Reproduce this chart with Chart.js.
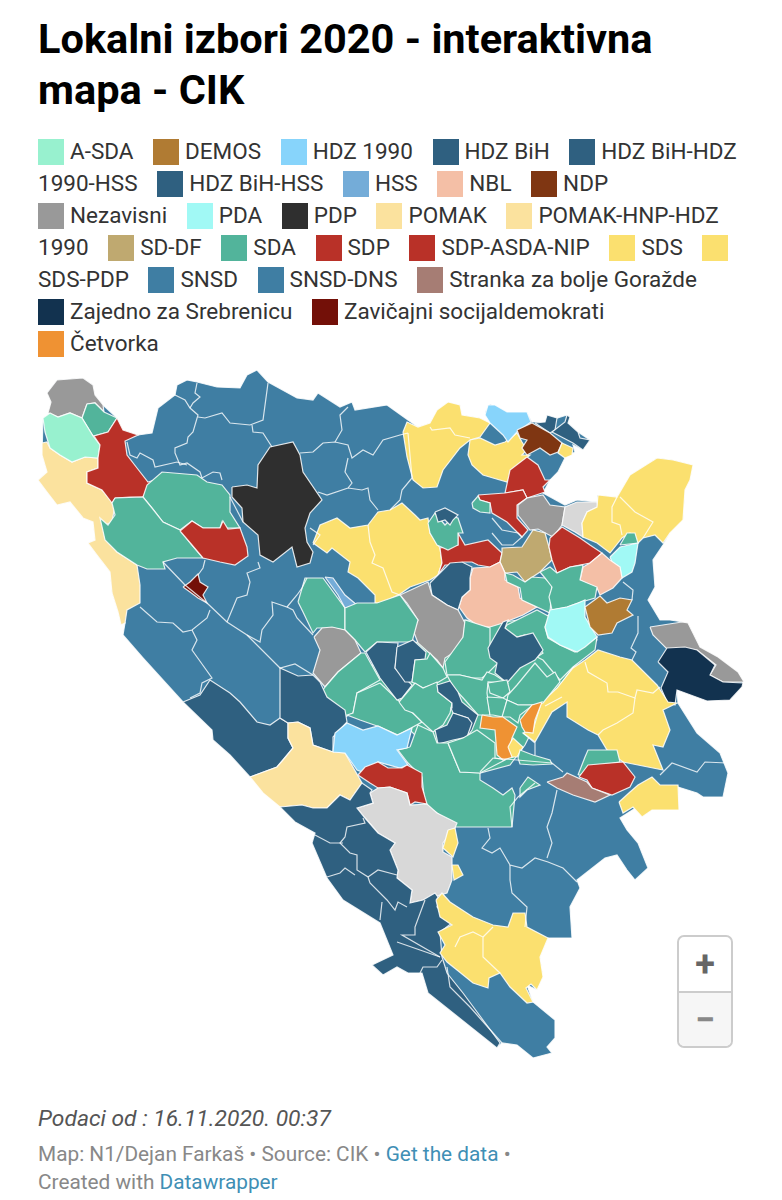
<!DOCTYPE html>
<html>
<head>
<meta charset="utf-8">
<script src="https://cdn.jsdelivr.net/npm/chart.js@4"></script>
<style>
    html, body { margin: 0; padding: 0; background: #fff; }
    body { width: 782px; height: 1200px; position: relative; overflow: hidden; font-family: Roboto, sans-serif; }
    h1 { position: absolute; left: 38px; top: 13px; width: 700px; margin: 0; font-size: 41.5px; line-height: 51px; font-weight: 700; color: #000; }
    #legend { position: absolute; left: 38px; top: 135px; width: 702px; font-size: 22.5px; line-height: 32px; color: #333; }
    #legend i { display: inline-block; width: 26px; height: 26px; margin-right: 6px; vertical-align: -6px; }
    #legend .item { margin-right: 14px; }
    #legend .lead { white-space: nowrap; }
    #map { position: absolute; left: 0; top: 365px; }
    #note { position: absolute; left: 38px; top: 1105px; font-size: 22.8px; font-style: italic; color: #555; }
    #credit { position: absolute; left: 38px; top: 1140px; width: 480px; font-size: 20.8px; line-height: 28px; color: #888; }
    #credit a { color: #3f8fb5; text-decoration: none; }
    #zoom { position: absolute; left: 677px; top: 935px; width: 52px; height: 109px; border: 2px solid #ccc; border-radius: 7px; background: #fff; color: #666; text-align: center; font-weight: 700; font-size: 36px; }
    #zoom div { height: 54px; line-height: 54px; }
    #zoom div + div { height: 53px; border-top: 2px solid #ccc; background: #f6f6f6; color: #888; border-radius: 0 0 6px 6px; }
</style>
</head>
<body>
<h1>Lokalni izbori 2020 - interaktivna mapa - CIK</h1>
<div id="legend"></div>
<canvas id="map" width="782" height="705"></canvas>
<div id="note">Podaci od : 16.11.2020. 00:37</div>
<div id="credit">Map: N1/Dejan Farkaš • Source: CIK • <a>Get the data</a> • Created with <a>Datawrapper</a></div>
<div id="zoom"><div>+</div><div>−</div></div>
<script>
// legend
const parties = ["A-SDA", "DEMOS", "HDZ 1990", "HDZ BiH", "HDZ BiH-HDZ 1990-HSS", "HDZ BiH-HSS", "HSS", "NBL", "NDP", "Nezavisni", "PDA", "PDP", "POMAK", "POMAK-HNP-HDZ 1990", "SD-DF", "SDA", "SDP", "SDP-ASDA-NIP", "SDS", "SDS-PDP", "SNSD", "SNSD-DNS", "Stranka za bolje Goražde", "Zajedno za Srebrenicu", "Zavičajni socijaldemokrati", "Četvorka"]
const partyColors = ["#98f1cf", "#b07b33", "#87d4fb", "#2f6080", "#2f6080", "#2f6080", "#74acd8", "#f4bfa6", "#7f3612", "#999999", "#a1f9f5", "#2f2f2f", "#fbe29e", "#fbe29e", "#bfa970", "#52b49b", "#b93128", "#b93128", "#fbe06f", "#fbe06f", "#3f7ea3", "#3f7ea3", "#a67d74", "#12324f", "#731008", "#ef9233"]
const noData = "#d8d8d8"

// map shapes (x, y in map units)
const country = [[47,393],[57,380],[70,379],[83,378],[93,385],[95,395],[103,405],[117,418],[123,430],[138,435],[152,433],[158,408],[175,395],[177,385],[187,380],[197,382],[217,387],[240,388],[247,375],[257,370],[268,382],[297,398],[313,400],[318,393],[340,407],[352,402],[355,410],[387,405],[408,420],[418,427],[430,423],[437,410],[448,402],[460,405],[462,415],[480,418],[490,423],[485,412],[490,404],[507,412],[527,412],[532,422],[545,422],[547,415],[557,418],[567,415],[567,422],[578,432],[590,440],[583,450],[573,445],[575,452],[565,458],[558,472],[550,480],[543,493],[565,505],[577,500],[598,502],[597,495],[617,497],[630,475],[657,458],[673,460],[693,465],[690,480],[685,490],[683,520],[670,533],[663,545],[653,560],[655,587],[648,600],[660,620],[670,620],[683,622],[697,647],[715,657],[738,673],[743,683],[730,700],[707,700],[677,690],[678,703],[697,733],[720,753],[728,773],[723,797],[703,797],[697,793],[678,787],[679,810],[652,810],[642,817],[637,807],[620,818],[627,830],[638,843],[648,868],[635,880],[627,870],[617,855],[605,858],[577,880],[580,888],[570,907],[572,938],[548,938],[540,957],[543,977],[537,990],[527,985],[533,1002],[555,1020],[555,1038],[547,1047],[552,1053],[533,1058],[517,1045],[502,1043],[497,1048],[428,993],[422,973],[408,973],[397,967],[383,975],[372,965],[393,955],[380,923],[343,900],[327,878],[312,843],[315,833],[295,822],[280,807],[250,777],[230,755],[213,740],[212,730],[183,702],[143,658],[123,635],[125,623],[121,625],[118,612],[112,593],[110,572],[97,555],[88,543],[95,540],[93,522],[83,518],[70,502],[57,505],[47,492],[38,480],[47,472],[42,455],[43,418],[50,413],[51,402]]
const centerGreen = [[400,650],[465,620],[505,622],[550,615],[597,640],[575,665],[545,705],[525,745],[510,765],[480,773],[455,760],[425,745],[400,720],[365,700],[345,680]]
const bihacStrip = [[42,443],[47,442],[50,448],[60,455],[72,462],[85,457],[98,458],[98,468],[87,472],[87,483],[102,490],[115,505],[112,522],[105,525],[102,522],[105,538],[117,552],[137,565],[140,585],[140,603],[127,610],[125,623],[121,625],[118,612],[112,593],[110,572],[97,555],[88,543],[95,540],[93,522],[83,518],[70,502],[57,505],[47,492],[38,480],[47,472],[42,455]]
const nwGray = [[47,393],[57,380],[70,379],[83,378],[93,385],[95,395],[103,405],[104,412],[95,403],[87,404],[82,418],[70,413],[58,417],[48,413],[51,402]]
const nwGreen = [[87,404],[95,403],[104,412],[117,418],[108,432],[93,436],[82,418]]
const nwMint = [[43,418],[50,413],[58,417],[70,413],[82,418],[93,436],[100,445],[98,458],[85,457],[72,462],[60,455],[50,448],[45,432]]
const nwRed = [[117,418],[123,430],[138,435],[125,441],[127,455],[137,468],[148,482],[155,480],[152,483],[143,497],[130,497],[115,498],[112,503],[102,490],[87,483],[87,472],[98,468],[98,458],[100,445],[94,436],[108,432]]
const sanaGreen = [[143,497],[147,485],[162,472],[197,475],[207,482],[222,485],[230,495],[230,512],[240,528],[223,528],[222,522],[220,528],[203,528],[192,521],[180,530],[163,522],[152,508]]
const unaGreen = [[115,498],[143,497],[152,508],[163,522],[180,530],[192,545],[203,558],[177,558],[163,562],[165,569],[147,569],[137,565],[117,552],[105,540],[100,518],[108,525],[115,515],[112,503]]
const westRed = [[180,531],[192,521],[203,528],[220,528],[223,521],[228,529],[240,528],[247,547],[248,556],[235,565],[220,562],[203,558],[192,545]]
const westDarkRed = [[183,587],[190,582],[198,574],[200,582],[208,587],[203,595],[207,603],[198,598],[190,592]]
const blackPdp = [[232,487],[247,485],[257,488],[258,465],[270,447],[293,442],[300,455],[303,472],[322,500],[310,513],[305,528],[307,542],[313,552],[310,563],[297,567],[292,547],[273,562],[260,555],[258,535],[243,522],[242,508],[232,497]]
const midYellow = [[313,543],[320,525],[337,518],[350,528],[368,525],[378,512],[390,510],[402,503],[415,515],[420,520],[428,518],[430,533],[440,548],[442,563],[438,575],[430,580],[410,587],[400,594],[382,603],[375,603],[375,595],[358,578],[348,572],[350,562],[332,548],[327,553]]
const northYellow = [[403,432],[407,422],[418,427],[430,423],[437,410],[448,402],[460,405],[462,415],[480,418],[490,423],[480,437],[470,440],[460,448],[443,470],[437,487],[423,488],[413,480],[407,457]]
const posavinaYellow = [[470,440],[480,438],[495,445],[505,442],[517,433],[522,442],[527,450],[522,455],[530,455],[513,470],[507,482],[493,478],[483,475],[472,465],[468,455]]
const posavinaSky = [[485,415],[488,405],[495,405],[507,412],[527,412],[531,422],[517,432],[508,442],[503,435],[490,423]]
const orasjeA = [[535,423],[545,422],[547,415],[557,418],[555,430],[550,433]]
const orasjeB = [[552,432],[565,422],[567,415],[570,417],[568,423],[578,432],[580,438],[590,440],[583,450],[573,443]]
const ndpBrown = [[517,430],[532,423],[550,433],[562,443],[558,452],[550,455],[540,448],[527,455],[522,448],[527,440],[520,438]]
const tinyYellow = [[562,443],[573,448],[572,455],[565,458],[558,453]]
const gradacacRed = [[527,457],[538,465],[545,480],[550,480],[543,487],[545,492],[527,498],[523,490],[505,493],[510,470]]
const doboRed = [[478,495],[505,493],[523,490],[527,498],[517,505],[517,518],[528,530],[522,537],[507,522],[492,513],[490,503],[480,500]]
const doboGreen = [[472,503],[478,496],[480,500],[490,503],[490,513],[480,512],[473,508]]
const northGray = [[518,505],[527,498],[543,495],[550,505],[565,507],[562,525],[553,537],[538,529],[530,530],[518,515]]
const northPale = [[562,525],[565,507],[577,502],[597,502],[598,507],[587,512],[582,523],[583,537],[575,532]]
const bijeljina = [[582,523],[587,512],[597,507],[598,495],[617,497],[630,475],[657,458],[673,460],[693,465],[690,480],[685,490],[683,520],[670,533],[663,543],[655,535],[643,538],[638,543],[630,533],[622,538],[610,553],[597,543],[583,537]]
const eastGreenTip = [[620,545],[627,533],[635,533],[638,543]]
const eastCyan = [[610,557],[620,547],[638,543],[635,563],[632,572],[622,578],[620,567],[612,562]]
const tesanjRed = [[440,548],[458,545],[458,533],[465,545],[488,540],[502,553],[500,562],[490,567],[478,565],[472,562],[463,562],[453,565],[445,565],[438,575],[442,563]]
const tesanjGreen = [[428,523],[435,513],[445,525],[453,517],[458,518],[463,533],[458,533],[458,545],[448,550],[437,545],[430,533]]
const tesanjDark = [[435,512],[445,508],[458,515],[453,520],[450,525],[445,520],[438,522]]
const tanDf = [[502,553],[502,548],[522,547],[533,530],[545,533],[549,547],[552,560],[540,572],[525,582],[517,572],[505,573],[500,562]]
const tuzlaRed = [[550,538],[562,527],[580,538],[590,545],[602,553],[590,563],[570,567],[557,573],[552,560],[549,547]]
const eastPeach = [[583,567],[590,563],[602,553],[610,560],[620,567],[622,578],[613,588],[600,595],[597,588],[580,580]]
const bigPeach = [[473,568],[490,567],[500,562],[505,573],[505,580],[518,587],[520,598],[537,607],[523,615],[503,623],[490,627],[480,627],[467,618],[459,607],[462,597],[470,590],[470,578]]
const zepceDark = [[430,583],[440,573],[450,563],[462,562],[472,567],[470,578],[470,590],[462,597],[458,610],[447,605],[432,595]]
const centerGray = [[400,595],[428,582],[432,595],[447,605],[458,610],[465,623],[462,647],[445,658],[443,668],[437,660],[418,643],[413,630],[418,620],[407,603]]
const greenA = [[505,573],[513,575],[525,582],[532,577],[545,578],[552,585],[550,613],[522,600],[520,588],[507,582]]
const greenB = [[540,572],[550,567],[557,573],[570,567],[583,565],[580,580],[597,587],[595,598],[578,603],[567,607],[552,610],[549,597],[552,587],[545,578]]
const bigCyan = [[545,627],[550,610],[567,607],[578,603],[585,600],[585,617],[597,637],[585,647],[577,652],[560,645],[548,637]]
const demosBrown = [[585,607],[600,596],[607,603],[620,598],[632,600],[627,610],[633,615],[617,623],[612,633],[598,635],[590,627]]
const eastGray = [[650,627],[682,622],[688,623],[700,647],[718,657],[738,672],[744,682],[723,682],[710,675],[716,665],[697,650],[668,650],[653,635]]
const srebrenica = [[658,662],[667,648],[685,647],[697,650],[715,665],[710,675],[723,682],[743,683],[742,687],[730,700],[707,701],[677,690],[675,705],[667,702],[661,688],[668,672]]
const eastYellow = [[585,660],[598,650],[620,657],[632,660],[657,685],[668,702],[677,703],[663,710],[670,730],[663,747],[653,745],[663,770],[623,762],[607,750],[598,735],[588,730],[567,717],[567,702],[552,712],[535,742],[523,733],[533,730],[541,703],[557,688],[573,668]]
const greenG1 = [[298,602],[305,578],[323,578],[345,608],[345,630],[333,628],[317,628],[313,633],[303,612]]
const hssBlue = [[325,577],[333,578],[345,595],[357,605],[345,608],[338,595]]
const greenG2 = [[345,608],[357,603],[377,603],[400,595],[418,620],[412,642],[397,642],[377,642],[365,652],[355,640],[345,630]]
const jajceGray = [[314,637],[322,628],[332,627],[345,630],[355,640],[361,653],[338,672],[325,687],[313,673],[320,650]]
const greenG3 = [[325,687],[338,672],[361,653],[365,653],[380,680],[357,693],[353,713],[345,717],[335,707],[327,703],[323,690]]
const greenG4 = [[380,683],[400,702],[415,715],[422,722],[398,735],[380,727],[360,720],[347,715],[353,713],[357,693]]
const darkV1 = [[366,652],[377,642],[398,643],[395,668],[412,685],[402,698],[397,700],[380,678]]
const darkV2 = [[397,647],[413,640],[426,652],[425,659],[415,660],[412,682],[405,682],[395,668]]
const greenG5 = [[412,682],[415,660],[427,659],[430,653],[443,668],[447,677],[437,683],[423,688]]
const greenG6 = [[445,662],[463,637],[465,620],[490,628],[490,650],[498,663],[488,673],[482,678],[473,678],[460,675],[447,675]]
const greenG7 = [[507,625],[537,610],[550,617],[545,627],[548,638],[560,645],[575,652],[597,637],[595,650],[573,667],[560,680],[553,672],[543,660],[537,657],[543,653],[533,638],[525,635],[513,638],[505,628]]
const darkBreza = [[500,627],[503,622],[508,620],[505,628],[517,637],[533,633],[543,650],[535,660],[520,668],[507,683],[495,673],[497,663],[490,658],[488,648]]
const greenG8 = [[447,675],[460,675],[482,680],[487,672],[495,675],[507,683],[488,682],[487,693],[490,715],[478,715],[465,700],[453,687]]
const greenG8b = [[488,683],[507,680],[510,692],[503,698],[490,693]]
const greenG9 = [[508,695],[517,685],[535,663],[547,677],[555,672],[560,682],[543,703],[533,705],[518,705],[507,700]]
const greenG10 = [[487,697],[503,698],[507,700],[503,717],[493,715],[490,715]]
const greenG11 = [[507,700],[518,705],[533,705],[520,715],[518,723],[510,717],[502,717]]
const greenG12 = [[399,702],[415,683],[423,688],[437,682],[438,692],[452,703],[450,713],[443,725],[433,732],[422,722],[413,713],[405,710]]
const darkK1 = [[437,685],[450,681],[458,692],[462,702],[478,715],[472,730],[467,737],[470,723],[468,718],[453,713],[451,708],[452,703],[438,692]]
const darkK2 = [[453,713],[468,718],[472,723],[467,737],[453,740],[438,744],[435,730],[447,725]]
const orangeA = [[482,715],[493,717],[503,717],[517,727],[512,738],[510,748],[513,757],[503,760],[497,755],[495,730],[480,728]]
const orangeB = [[520,720],[532,705],[542,702],[535,720],[533,733],[525,732],[522,727]]
const smallYellow = [[508,747],[513,738],[523,747],[517,757],[512,757]]
const trnovoGreen = [[518,758],[520,750],[533,755],[550,760],[552,764],[533,765],[520,764]]
const konjicGreen = [[410,747],[418,725],[433,732],[437,743],[448,743],[455,760],[460,772],[480,773],[480,780],[493,788],[503,795],[512,788],[515,795],[512,827],[455,827],[437,813],[425,805],[422,777],[408,763],[398,750]]
const greenG14 = [[448,743],[463,738],[477,730],[495,743],[495,758],[505,760],[480,773],[460,772],[455,760]]
const greenG15 = [[520,788],[528,777],[540,785],[527,790],[520,797]]
const gorazdeGreen = [[578,775],[585,757],[588,750],[617,750],[620,762],[592,767],[580,775]]
const gorazdeRed = [[579,777],[588,765],[623,762],[635,777],[630,787],[612,795],[592,788],[587,780]]
const gorazdeBrown = [[547,782],[563,777],[567,773],[587,782],[592,788],[610,795],[595,802],[573,795],[557,788]]
const rudoYellow = [[619,802],[630,792],[638,785],[652,777],[660,785],[678,785],[679,810],[652,810],[642,817],[633,807],[623,813]]
const grahovoDark = [[183,702],[200,695],[210,680],[230,693],[240,702],[257,722],[270,725],[280,718],[288,723],[288,738],[293,748],[283,760],[277,767],[250,777],[230,755],[213,740],[212,730]]
const glamocDark = [[280,718],[280,668],[298,676],[313,675],[320,682],[327,697],[345,710],[347,722],[333,737],[333,752],[313,745],[310,728],[298,722],[288,723]]
const livnoPale = [[250,777],[277,767],[283,760],[293,748],[288,738],[288,723],[298,722],[310,728],[313,745],[333,752],[345,753],[362,783],[350,800],[340,795],[327,808],[313,808],[302,805],[280,807],[263,793]]
const ramaSky = [[333,752],[335,733],[347,723],[363,730],[378,726],[397,735],[412,728],[407,748],[397,750],[408,765],[400,768],[378,762],[365,773],[357,770],[345,753]]
const jablanicaRed = [[358,775],[365,767],[378,762],[388,768],[402,768],[407,765],[422,773],[422,787],[427,804],[415,802],[410,805],[407,793],[390,787],[378,788],[370,783]]
const mostarPale = [[357,808],[373,803],[370,793],[378,788],[390,787],[407,793],[410,805],[427,804],[437,813],[457,823],[455,828],[443,843],[443,852],[452,857],[452,880],[447,893],[423,900],[410,903],[412,890],[397,878],[398,870],[390,850],[395,843],[378,833],[365,818]]
const southDark = [[280,807],[302,805],[313,808],[327,808],[340,795],[350,800],[362,783],[372,790],[370,793],[373,803],[357,808],[365,818],[378,833],[395,843],[390,850],[398,870],[397,878],[412,890],[410,903],[423,900],[435,893],[440,900],[437,907],[452,923],[440,932],[442,957],[447,973],[463,993],[500,1043],[497,1048],[428,993],[422,973],[408,973],[397,967],[383,975],[372,965],[393,955],[380,923],[343,900],[327,878],[312,843],[315,833],[295,822]]
const trebinjeYellow = [[436,900],[442,893],[450,902],[473,917],[493,925],[508,927],[513,913],[525,913],[527,927],[548,938],[540,957],[543,977],[537,990],[531,984],[526,988],[533,1002],[527,1003],[510,987],[500,973],[489,978],[488,988],[473,983],[457,970],[447,962],[440,953],[445,945],[438,932],[452,925],[440,917]]
const chipYellowA = [[448,830],[455,828],[458,843],[453,857],[443,848]]
const chipYellowB = [[452,865],[458,865],[463,875],[454,880]]

// municipal borders that run inside one colour
const borderLines = [
    [[175,395],[185,400],[190,408],[198,415],[193,432],[188,437],[187,443],[175,448],[175,453],[180,465],[187,463],[200,472],[202,478],[213,472],[220,473],[222,480]],
    [[197,383],[195,393],[200,397],[193,403],[190,408]],
    [[198,417],[205,418],[222,413],[230,423],[250,425],[263,420],[268,383]],
    [[252,425],[253,432],[263,433],[272,447]],
    [[300,453],[313,452],[323,443],[335,442],[348,445],[352,458],[363,450],[373,455],[383,440],[400,435],[408,433]],
    [[335,442],[342,430],[340,415],[348,407]],
    [[348,458],[345,472],[352,483],[348,488],[327,495],[318,492]],
    [[348,488],[362,490],[368,488],[370,500],[378,510]],
    [[127,442],[130,455],[137,458],[140,453],[153,460],[155,467],[177,462],[187,465]],
    [[205,560],[203,568],[198,575]],
    [[163,562],[185,585],[207,603],[227,622],[247,635],[280,668],[295,664],[313,675]],
    [[140,607],[157,622],[173,623],[183,632],[192,630],[207,618],[210,610]],
    [[192,630],[197,640],[192,650],[212,678],[202,683],[200,693],[190,698]],
    [[227,622],[237,598],[247,595],[250,582],[247,573],[260,568],[258,562]],
    [[247,635],[260,642],[262,630],[273,615],[272,602],[287,607],[297,595],[302,588],[307,578]],
    [[287,607],[293,610],[297,618],[313,635]],
    [[230,497],[243,522]],
    [[310,528],[320,535],[313,545]],
    [[390,510],[400,500],[402,490],[412,478],[408,433]],
    [[492,518],[502,530],[518,533],[522,537],[513,545],[502,545],[492,533]],
    [[638,616],[638,633],[631,648],[636,652],[632,660]],
    [[623,582],[633,590],[632,600]],
    [[512,827],[510,807],[518,797],[535,783]],
    [[557,790],[552,813],[547,827],[552,843],[547,858]],
    [[488,828],[490,838],[482,848],[492,853],[500,848],[510,865],[522,868],[535,858],[548,862],[563,868],[577,882]],
    [[510,865],[510,880],[512,893],[527,907],[525,927]],
    [[447,967],[450,987],[470,1007],[502,1043]],
    [[480,772],[493,758],[517,760],[552,763],[563,772]],
    [[523,733],[535,743],[535,755]],
    [[660,775],[672,763],[697,772],[705,762],[727,763]],
    [[343,843],[330,843],[315,835]],
    [[363,818],[365,823],[347,827],[345,837],[340,843],[350,853],[357,855],[357,870],[368,877],[370,883],[387,900],[395,910],[398,902],[407,907]],
    [[327,877],[340,873],[345,868],[355,875]],
    [[368,877],[378,870],[397,875]],
    [[382,902],[380,920]],
    [[425,900],[415,927],[415,935],[402,935],[440,957]],
    [[397,942],[420,950],[440,957]],
    [[420,973],[423,967],[437,967],[442,960]],
    [[368,525],[370,542],[375,555],[372,563],[383,568],[392,592],[400,595]],
    [[430,427],[432,430],[450,428],[455,435],[470,438]],
    [[617,497],[612,507],[612,522],[620,525],[622,535]],
    [[620,497],[635,512],[653,522],[643,538]],
    [[585,662],[588,672],[607,683],[608,692],[618,692],[635,698],[637,690],[653,693],[660,687]],
    [[635,698],[633,713],[617,723],[603,730],[598,735]],
    [[545,706],[562,697]],
    [[455,947],[460,937],[473,932],[483,937],[483,957],[500,973]],
    [[483,937],[493,927]]
]

// paint order: country first, then every municipality on top of it
const shapes = [
    ["SNSD", country], ["SDA", centerGreen], ["POMAK", bihacStrip], ["Nezavisni", nwGray], ["SDA", nwGreen], ["A-SDA", nwMint], ["SDP", nwRed],
    ["SDA", sanaGreen], ["SDA", unaGreen], ["SDP", westRed], ["Zavičajni socijaldemokrati", westDarkRed], ["PDP", blackPdp],
    ["SDS", midYellow], ["SDS", northYellow], ["SDS", posavinaYellow], ["HDZ 1990", posavinaSky], ["HDZ BiH", orasjeA], ["HDZ BiH", orasjeB],
    ["NDP", ndpBrown], ["SDS", tinyYellow], ["SDP", gradacacRed], ["SDP", doboRed], ["SDA", doboGreen], ["Nezavisni", northGray], [null, northPale],
    ["SDS", bijeljina], ["SDA", eastGreenTip], ["PDA", eastCyan], ["SDP", tesanjRed], ["SDA", tesanjGreen], ["HDZ BiH", tesanjDark],
    ["SD-DF", tanDf], ["SDP", tuzlaRed], ["NBL", eastPeach], ["NBL", bigPeach], ["HDZ BiH", zepceDark], ["Nezavisni", centerGray],
    ["SDA", greenA], ["SDA", greenB], ["SDA", greenG7], ["PDA", bigCyan], ["DEMOS", demosBrown], ["Nezavisni", eastGray], ["Zajedno za Srebrenicu", srebrenica],
    ["SDS", eastYellow], ["SDA", greenG1], ["HSS", hssBlue], ["SDA", greenG2], ["Nezavisni", jajceGray], ["SDA", greenG3], ["SDA", greenG4],
    ["HDZ BiH", darkV1], ["HDZ BiH", darkV2], ["SDA", greenG5], ["SDA", greenG6], ["HDZ BiH", darkBreza], ["SDA", greenG8], ["SDA", greenG8b],
    ["SDA", greenG9], ["SDA", greenG10], ["SDA", greenG11], ["SDA", greenG12], ["HDZ BiH", darkK1], ["HDZ BiH", darkK2],
    ["SDA", konjicGreen], ["SDA", greenG14], ["Četvorka", orangeA], ["Četvorka", orangeB], ["SDS", smallYellow], ["SDA", trnovoGreen], ["SDA", greenG15],
    ["SDA", gorazdeGreen], ["SDP", gorazdeRed], ["Stranka za bolje Goražde", gorazdeBrown], ["SDS", rudoYellow],
    ["HDZ BiH", grahovoDark], ["HDZ BiH", glamocDark], ["POMAK", livnoPale], ["HDZ 1990", ramaSky], ["SDP", jablanicaRed], [null, mostarPale],
    ["HDZ BiH", southDark], ["SDS", trebinjeYellow], ["SDS", chipYellowA], ["SDS", chipYellowB]
]

// swatch stays with the first word, except the one label that wrapped alone in the original
document.getElementById("legend").innerHTML = parties.map((name, i) => {
    const swatch = `<i style="background:${partyColors[i]}"></i>`
    if (name == "SDS-PDP") return `<span class="item">${swatch}${name}</span>`
    const words = name.split(" ")
    const rest = words.slice(1).join(" ")
    return `<span class="item"><span class="lead">${swatch}${words[0]}</span>${rest ? " " + rest : ""}</span>`
}).join(" ")

const toPoints = (list) => list.map((p) => ({ x: p[0], y: p[1] }))
const datasets = []
const total = shapes.length + borderLines.length
shapes.forEach((item, i) => {
    const closed = item[1].concat([item[1][0]])
    datasets.push({
        data: toPoints(closed),
        showLine: true,
        fill: "shape",
        backgroundColor: item[0] ? partyColors[parties.indexOf(item[0])] : noData,
        borderColor: "rgba(255,255,255,0.85)",
        borderWidth: 1.2,
        pointRadius: 0,
        order: total - i
    })
})
borderLines.forEach((line, i) => {
    datasets.push({
        data: toPoints(line),
        showLine: true,
        fill: false,
        borderColor: "rgba(255,255,255,0.8)",
        borderWidth: 1.2,
        pointRadius: 0,
        order: borderLines.length - i
    })
})

new Chart("map", {
    type: "scatter",
    data: { datasets: datasets },
    options: {
        responsive: false,
        animation: false,
        layout: { padding: 0 },
        plugins: { legend: { display: false }, tooltip: { enabled: false } },
        scales: {
            x: { type: "linear", display: false, min: 0, max: 782 },
            y: { type: "linear", display: false, min: 365, max: 1070, reverse: true }
        }
    }
})
</script>
</body>
</html>
